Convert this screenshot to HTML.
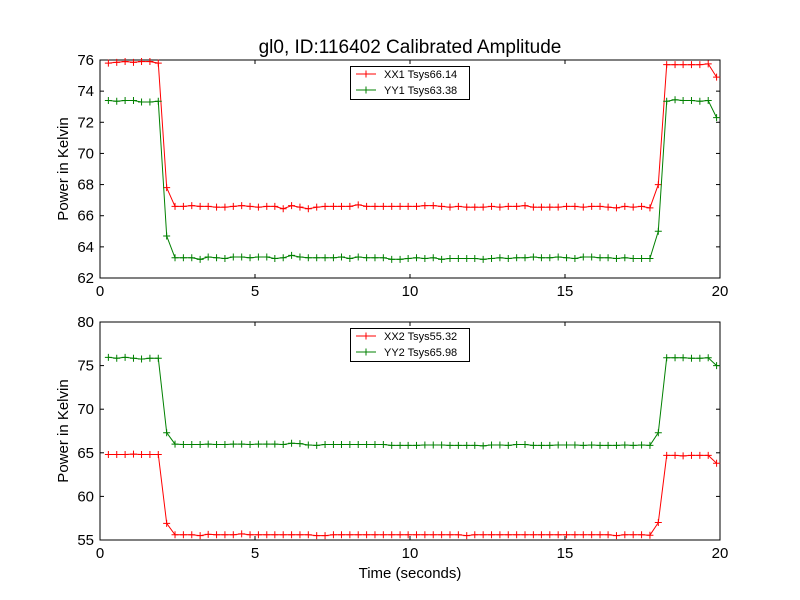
<!DOCTYPE html>
<html><head><meta charset="utf-8"><style>
body{margin:0;background:#fff;}
svg{display:block;font-family:"Liberation Sans",sans-serif;}
</style></head><body>
<svg id="chart" width="800" height="600" viewBox="0 0 800 600">
<rect x="0" y="0" width="800" height="600" fill="#fff"/>
<text x="410" y="53" font-size="19" text-anchor="middle">gl0, ID:116402 Calibrated Amplitude</text>
<g id="top"></g><g id="bot"></g>
<text x="410" y="578" font-size="15" text-anchor="middle">Time (seconds)</text>
</svg>
<script>
const times = [0.27,0.54,0.81,1.08,1.34,1.61,1.88,2.15,2.42,2.69,2.96,3.23,3.49,3.76,4.03,4.30,4.57,4.84,5.11,5.38,5.64,5.91,6.18,6.45,6.72,6.99,7.26,7.53,7.79,8.06,8.33,8.60,8.87,9.14,9.41,9.68,9.94,10.21,10.48,10.75,11.02,11.29,11.56,11.83,12.09,12.36,12.63,12.90,13.17,13.44,13.71,13.98,14.24,14.51,14.78,15.05,15.32,15.59,15.86,16.13,16.39,16.66,16.93,17.20,17.47,17.74,18.01,18.28,18.55,18.81,19.08,19.35,19.62,19.89];
const xx1 = [75.8,75.85,75.9,75.85,75.9,75.9,75.8,67.8,66.6,66.6,66.65,66.6,66.6,66.55,66.55,66.6,66.65,66.6,66.55,66.6,66.6,66.45,66.65,66.55,66.45,66.55,66.6,66.6,66.6,66.6,66.7,66.6,66.6,66.6,66.6,66.6,66.6,66.6,66.65,66.65,66.6,66.55,66.6,66.55,66.55,66.55,66.6,66.55,66.6,66.6,66.65,66.55,66.55,66.55,66.55,66.6,66.6,66.55,66.6,66.6,66.55,66.5,66.6,66.55,66.6,66.5,68.0,75.7,75.7,75.7,75.7,75.7,75.75,74.9];
const yy1 = [73.4,73.35,73.4,73.4,73.3,73.3,73.35,64.7,63.3,63.3,63.3,63.2,63.35,63.3,63.25,63.35,63.35,63.3,63.35,63.35,63.25,63.3,63.45,63.35,63.3,63.3,63.3,63.3,63.35,63.25,63.35,63.3,63.3,63.3,63.2,63.2,63.25,63.3,63.25,63.3,63.2,63.25,63.25,63.25,63.25,63.2,63.25,63.3,63.25,63.3,63.3,63.35,63.3,63.3,63.35,63.3,63.25,63.35,63.35,63.3,63.3,63.25,63.3,63.25,63.25,63.25,65.0,73.35,73.45,73.4,73.4,73.35,73.4,72.3];
const xx2 = [64.8,64.8,64.8,64.85,64.8,64.8,64.8,56.9,55.6,55.6,55.6,55.5,55.65,55.6,55.6,55.6,55.7,55.6,55.6,55.6,55.6,55.6,55.6,55.6,55.6,55.5,55.5,55.6,55.6,55.6,55.6,55.6,55.6,55.6,55.6,55.6,55.6,55.6,55.6,55.6,55.6,55.6,55.6,55.5,55.6,55.6,55.6,55.6,55.6,55.6,55.6,55.6,55.6,55.6,55.6,55.6,55.6,55.6,55.6,55.6,55.6,55.5,55.6,55.6,55.6,55.55,57.0,64.7,64.7,64.65,64.7,64.7,64.7,63.8];
const yy2 = [75.95,75.85,75.95,75.85,75.75,75.85,75.85,67.3,66.0,65.95,65.95,65.95,66.0,65.95,65.95,66.0,66.0,65.95,66.0,66.0,66.0,65.95,66.1,66.05,65.9,65.85,65.95,65.95,65.95,65.95,65.95,65.95,65.95,65.95,65.85,65.85,65.85,65.85,65.9,65.9,65.9,65.85,65.85,65.85,65.85,65.8,65.9,65.9,65.85,65.95,65.95,65.85,65.85,65.85,65.9,65.9,65.9,65.85,65.9,65.85,65.85,65.85,65.9,65.85,65.9,65.85,67.3,75.9,75.9,75.9,75.85,75.85,75.9,75.0];
const xTicks = [0,5,10,15,20];
const topTicks = [62,64,66,68,70,72,74,76];
const botTicks = [55,60,65,70,75,80];
const topLegend = ["XX1 Tsys66.14","YY1 Tsys63.38"];
const botLegend = ["XX2 Tsys55.32","YY2 Tsys65.98"];

const NS = "http://www.w3.org/2000/svg";
function mk(tag, attrs, parent){const e=document.createElementNS(NS,tag);for(const k in attrs)e.setAttribute(k,attrs[k]);parent.appendChild(e);return e;}
const L=100,R=720;
function xs(t){return L+(t-0)/(20-0)*(R-L);}

function panel(g, top, bottom, ymin, ymax, yTicks, sA, sB, legend, prefix){
  const ys=v=>bottom-(v-ymin)/(ymax-ymin)*(bottom-top);
  const frame=mk('rect',{x:L,y:top,width:R-L,height:bottom-top,fill:'none',stroke:'#000','stroke-width':1},g);
  
  
  xTicks.forEach(t=>{
    const x=xs(t);
    const a=mk('line',{x1:x,x2:x,y1:bottom,y2:bottom-4,stroke:'#000'},g);
    
    
    const b=mk('line',{x1:x,x2:x,y1:top,y2:top+4,stroke:'#000'},g);
    
    
    const tx=mk('text',{x:x,y:bottom+18,'font-size':15,'text-anchor':'middle'},g);
    tx.textContent=t;
    
    
  });
  yTicks.forEach(v=>{
    const y=ys(v);
    const a=mk('line',{x1:L,x2:L+4,y1:y,y2:y,stroke:'#000'},g);
    
    
    const b=mk('line',{x1:R,x2:R-4,y1:y,y2:y,stroke:'#000'},g);
    
    
    const tx=mk('text',{x:L-6,y:y+5,'font-size':15,'text-anchor':'end'},g);
    tx.textContent=v;
    
    
  });
  const yl=mk('text',{x:0,y:0,'font-size':15,'text-anchor':'middle',transform:`translate(68,${(top+bottom)/2}) rotate(-90)`},g);
  yl.textContent='Power in Kelvin';
  
  
  [[sA,'#ff0000'],[sB,'#008000']].forEach(([s,c],k)=>{
    const pts=s.map((v,i)=>xs(times[i]).toFixed(1)+','+ys(v).toFixed(1)).join(' ');
    const pl=mk('polyline',{points:pts,fill:'none',stroke:c,'stroke-width':1},g);
    
    
    s.forEach((v,i)=>{
      const x=xs(times[i]),y=ys(v);
      const m=mk('path',{d:`M${x-3.5},${y}H${x+3.5}M${x},${y-3.5}V${y+3.5}`,stroke:c,'stroke-width':1},g);
      
      
    });
  });
  const lg=mk('g',{},g);
  
  
  mk('rect',{x:350.5,y:top+6.5,width:119,height:33,fill:'#fff',stroke:'#000','stroke-width':1},lg);
  legend.forEach((lab,k)=>{
    const c=k?'#008000':'#ff0000', y=top+14+k*16;
    mk('path',{d:`M356,${y}H376M366,${y-3.5}V${y+3.5}`,stroke:c,'stroke-width':1},lg);
    const tx=mk('text',{x:384,y:y+4,'font-size':11},lg);
    tx.textContent=lab;
    
    
  });
}
panel(document.getElementById('top'),60,278,62,76,topTicks,xx1,yy1,topLegend,'top');
panel(document.getElementById('bot'),322,540,55,80,botTicks,xx2,yy2,botLegend,'bottom');
</script>
</body></html>
